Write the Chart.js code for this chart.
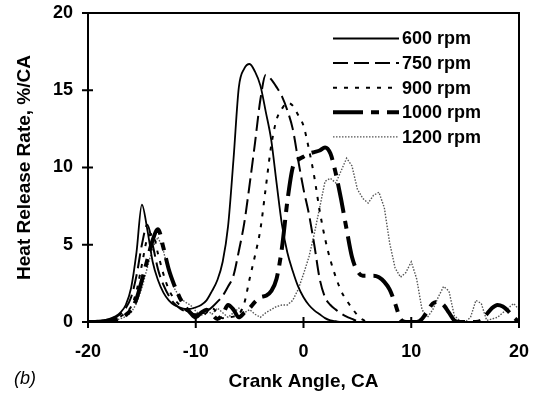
<!DOCTYPE html>
<html>
<head>
<meta charset="utf-8">
<script src="https://cdn.jsdelivr.net/npm/chart.js@4.4.1/dist/chart.umd.min.js"></script>
<style>
  html, body { margin: 0; padding: 0; background: #fff; }
  #wrap { position: relative; width: 534px; height: 396px; }
  #panel { position: absolute; left: 14px; top: 368px; font: italic 18px "Liberation Sans", Arial, sans-serif; line-height: 20px; }
</style>
</head>
<body>
<div id="wrap">
  <canvas id="hrrChart" width="534" height="396"></canvas>
  <div id="panel">(b)</div>
</div>
<script>
// crank angle, deg (x values)
const crankAngle = [
  -20, -19.5, -19, -18.5, -18, -17.5, -17, -16.5, -16, -15.5,
  -15, -14.5, -14, -13.5, -13, -12.5, -12, -11.5, -11, -10.5,
  -10, -9.5, -9, -8.5, -8, -7.5, -7, -6.5, -6, -5.5,
  -5, -4.5, -4, -3.5, -3, -2.5, -2, -1.5, -1, -0.5,
  0, 0.5, 1, 1.5, 2, 2.5, 3, 3.5, 4, 4.5,
  5, 5.5, 6, 6.5, 7, 7.5, 8, 8.5, 9, 9.5,
  10, 10.5, 11, 11.5, 12, 12.5, 13, 13.5, 14, 14.5,
  15, 15.5, 16, 16.5, 17, 17.5, 18, 18.5, 19, 19.5, 20
];

// heat release rate, %/CA
const hrr600 = [
  0, 0, 0.05, 0.1, 0.2, 0.35, 0.6, 1.1, 2.2, 4.5,
  7.6, 6.0, 3.9, 2.7, 1.9, 1.4, 1.1, 0.95, 0.85, 0.85,
  0.95, 1.1, 1.4, 2.0, 2.7, 3.9, 6.2, 10.5, 15.2, 16.4,
  16.7, 16.2, 15.3, 13.6, 11.8, 9.0, 6.3, 4.5, 3.3, 2.3,
  1.6, 1.1, 0.75, 0.5, 0.25, 0.1, 0.05, 0, 0, 0,
  0, 0, 0, 0, 0, 0, 0, 0, 0, 0,
  0, 0, 0, 0, 0, 0, 0, 0, 0, 0,
  0, 0, 0, 0, 0, 0, 0, 0, 0, 0, 0
];
const hrr750 = [
  0, 0, 0.05, 0.1, 0.15, 0.3, 0.5, 0.9, 1.6, 3.0,
  5.0, 6.3, 5.0, 3.4, 2.4, 1.7, 1.2, 0.9, 0.7, 0.6,
  0.5, 0.55, 0.7, 0.95, 1.3, 1.7, 2.3, 3.0, 4.6, 6.4,
  8.9, 11.6, 14.4, 16.0, 15.7, 15.2, 14.6, 13.7, 12.5, 10.5,
  8.6, 7.0, 5.0, 2.8, 1.6, 1.1, 0.8, 0.55, 0.35, 0.2,
  0.05, 0, 0, 0, 0, 0, 0, 0, 0, 0,
  0, 0, 0, 0, 0, 0, 0, 0, 0, 0,
  0, 0, 0, 0, 0, 0, 0, 0, 0, 0, 0
];
const hrr900 = [
  0, 0, 0.03, 0.08, 0.12, 0.2, 0.35, 0.6, 1.0, 2.0,
  3.7, 5.4, 5.7, 4.4, 3.1, 2.1, 1.5, 1.1, 0.8, 0.6,
  0.45, 0.4, 0.6, 0.9, 0.6, 0.25, 0.3, 0.35, 0.5, 1.2,
  2.8, 4.3, 6.0, 8.7, 11.4, 13.1, 13.8, 14.2, 14.0, 13.4,
  12.7, 11.2, 9.4, 7.2, 5.4, 4.0, 2.9, 2.0, 1.4, 0.9,
  0.45, 0.15, 0, 0, 0, 0, 0, 0, 0, 0,
  0, 0, 0, 0, 0, 0, 0, 0, 0, 0,
  0, 0, 0, 0, 0, 0, 0, 0, 0, 0, 0
];
const hrr1000 = [
  0, 0, 0.02, 0.05, 0.1, 0.15, 0.25, 0.45, 0.8, 1.5,
  2.7, 4.0, 5.3, 6.0, 4.8, 3.4, 2.4, 1.6, 1.0, 0.6,
  0.3, 0.6, 0.8, 0.5, 0.2, 0.5, 1.1, 0.8, 0.3, 0.6,
  0.9, 1.3, 1.6, 1.7, 2.0, 2.8, 4.8, 7.8, 10.0, 10.5,
  10.7, 10.9, 11.0, 11.1, 11.3, 10.9, 9.6, 7.9, 6.0, 4.2,
  3.3, 3.0, 3.0, 3.0, 2.9, 2.6, 2.1, 1.2, 0.2, 0,
  0, 0, 0.2, 0.7, 1.2, 1.3, 1.1, 0.6, 0.1, 0,
  0, 0, 0, 0.1, 0.5, 0.9, 1.1, 1.0, 0.7, 0.3, 0
];
const hrr1200 = [
  0, 0, 0.02, 0.05, 0.08, 0.12, 0.2, 0.35, 0.6, 1.2,
  2.2, 3.5, 4.8, 5.5, 4.6, 3.2, 2.2, 1.6, 1.3, 1.1,
  0.7, 0.4, 0.8, 0.5, 0.9, 0.6, 0.3, 0.6, 0.9, 0.6,
  0.8, 0.5, 0.3, 0.6, 0.8, 1.0, 1.1, 1.1, 1.4, 2.1,
  3.1, 4.2, 5.7, 7.4, 9.1, 9.3, 9.0, 9.8, 10.6, 10.1,
  8.6, 8.0, 7.7, 8.2, 8.4, 7.4, 5.1, 3.5, 2.9, 3.2,
  3.9, 2.8, 0.8, 0.3, 0.8, 1.6, 2.3, 2.0, 0.4, 0.1,
  0, 0.3, 1.4, 1.2, 0.1, 0.2, 0.3, 0.6, 0.9, 1.2, 0.8
];

const seriesNames = ["600 rpm", "750 rpm", "900 rpm", "1000 rpm", "1200 rpm"];
const seriesValues = [hrr600, hrr750, hrr900, hrr1000, hrr1200];

const xTicks = [-20, -10, 0, 10, 20];
const yTicks = [0, 5, 10, 15, 20];

// line styles per series
const styles = [
  { color: "#000", width: 1.8, dash: [], tension: 0.35 },
  { color: "#000", width: 2, dash: [15, 6], tension: 0.35 },
  { color: "#000", width: 2, dash: [4, 7], tension: 0.35 },
  { color: "#000", width: 4, dash: [30, 8, 8, 8], tension: 0.35 },
  { color: "#555", width: 1.4, dash: [1.5, 1.5], tension: 0 },
];

const datasets = seriesNames.map((name, i) => ({
  label: name,
  data: crankAngle.map((x, j) => ({ x: x, y: seriesValues[i][j] })),
  borderColor: styles[i].color,
  borderWidth: styles[i].width,
  borderDash: styles[i].dash,
  tension: styles[i].tension,
  cubicInterpolationMode: styles[i].tension ? "monotone" : "default",
  pointRadius: 0,
  fill: false,
}));

const tickFont = { family: '"Liberation Sans", Arial, sans-serif', size: 18, weight: "bold" };
const titleFont = { family: '"Liberation Sans", Arial, sans-serif', size: 19, weight: "bold" };

// box round the plot and ticks crossing the axes
const frameTicks = {
  id: "frameTicks",
  afterDatasetsDraw(chart) {
    const { ctx, chartArea: a, scales } = chart;
    ctx.save();
    ctx.strokeStyle = "#000";
    ctx.lineWidth = 2;
    ctx.strokeRect(a.left, a.top, a.right - a.left, a.bottom - a.top);
    ctx.beginPath();
    scales.x.ticks.forEach((t) => {
      const px = scales.x.getPixelForValue(t.value);
      ctx.moveTo(px, a.bottom - 5);
      ctx.lineTo(px, a.bottom + 6);
    });
    scales.y.ticks.forEach((t) => {
      const py = scales.y.getPixelForValue(t.value);
      ctx.moveTo(a.left - 6, py);
      ctx.lineTo(a.left + 5, py);
    });
    ctx.stroke();
    ctx.restore();
  },
};

// legend inside the plot, line sample on the left of the text
const lineLegend = {
  id: "lineLegend",
  afterDraw(chart) {
    const { ctx } = chart;
    ctx.save();
    chart.data.datasets.forEach((ds, i) => {
      const y = 38.5 + i * 24.6;
      ctx.beginPath();
      ctx.strokeStyle = ds.borderColor;
      ctx.lineWidth = ds.borderWidth;
      ctx.setLineDash(ds.borderDash);
      ctx.moveTo(333, y);
      ctx.lineTo(399, y);
      ctx.stroke();
      ctx.setLineDash([]);
      ctx.fillStyle = "#000";
      ctx.font = 'bold 18px "Liberation Sans", Arial, sans-serif';
      ctx.textBaseline = "middle";
      ctx.textAlign = "left";
      ctx.fillText(ds.label, 402, y + 1);
    });
    ctx.restore();
  },
};

new Chart(document.getElementById("hrrChart"), {
  type: "line",
  data: { datasets: datasets },
  options: {
    responsive: false,
    animation: false,
    layout: { padding: { left: 0, top: 13, right: 15, bottom: 0 } },
    plugins: { legend: { display: false }, tooltip: { enabled: false } },
    scales: {
      x: {
        type: "linear",
        min: -20,
        max: 20,
        afterBuildTicks: (s) => { s.ticks = xTicks.map((v) => ({ value: v })); },
        afterFit: (s) => { s.height = 74; s.paddingLeft = 0; s.paddingRight = 0; },
        grid: { display: false, drawTicks: false },
        border: { display: false },
        ticks: { color: "#000", font: tickFont, padding: 19, maxRotation: 0 },
        title: { display: true, text: "Crank Angle, CA", color: "#000", font: titleFont, padding: { top: 0, bottom: 3 } },
      },
      y: {
        min: 0,
        max: 20,
        afterBuildTicks: (s) => { s.ticks = yTicks.map((v) => ({ value: v })); },
        afterFit: (s) => { s.width = 88; s.paddingTop = 0; s.paddingBottom = 0; },
        grid: { display: false, drawTicks: false },
        border: { display: false },
        ticks: { color: "#000", font: tickFont, padding: 15 },
        title: { display: true, text: "Heat Release Rate, %/CA", color: "#000", font: titleFont, padding: { top: 13, bottom: 0 } },
      },
    },
  },
  plugins: [frameTicks, lineLegend],
});
</script>
</body>
</html>
